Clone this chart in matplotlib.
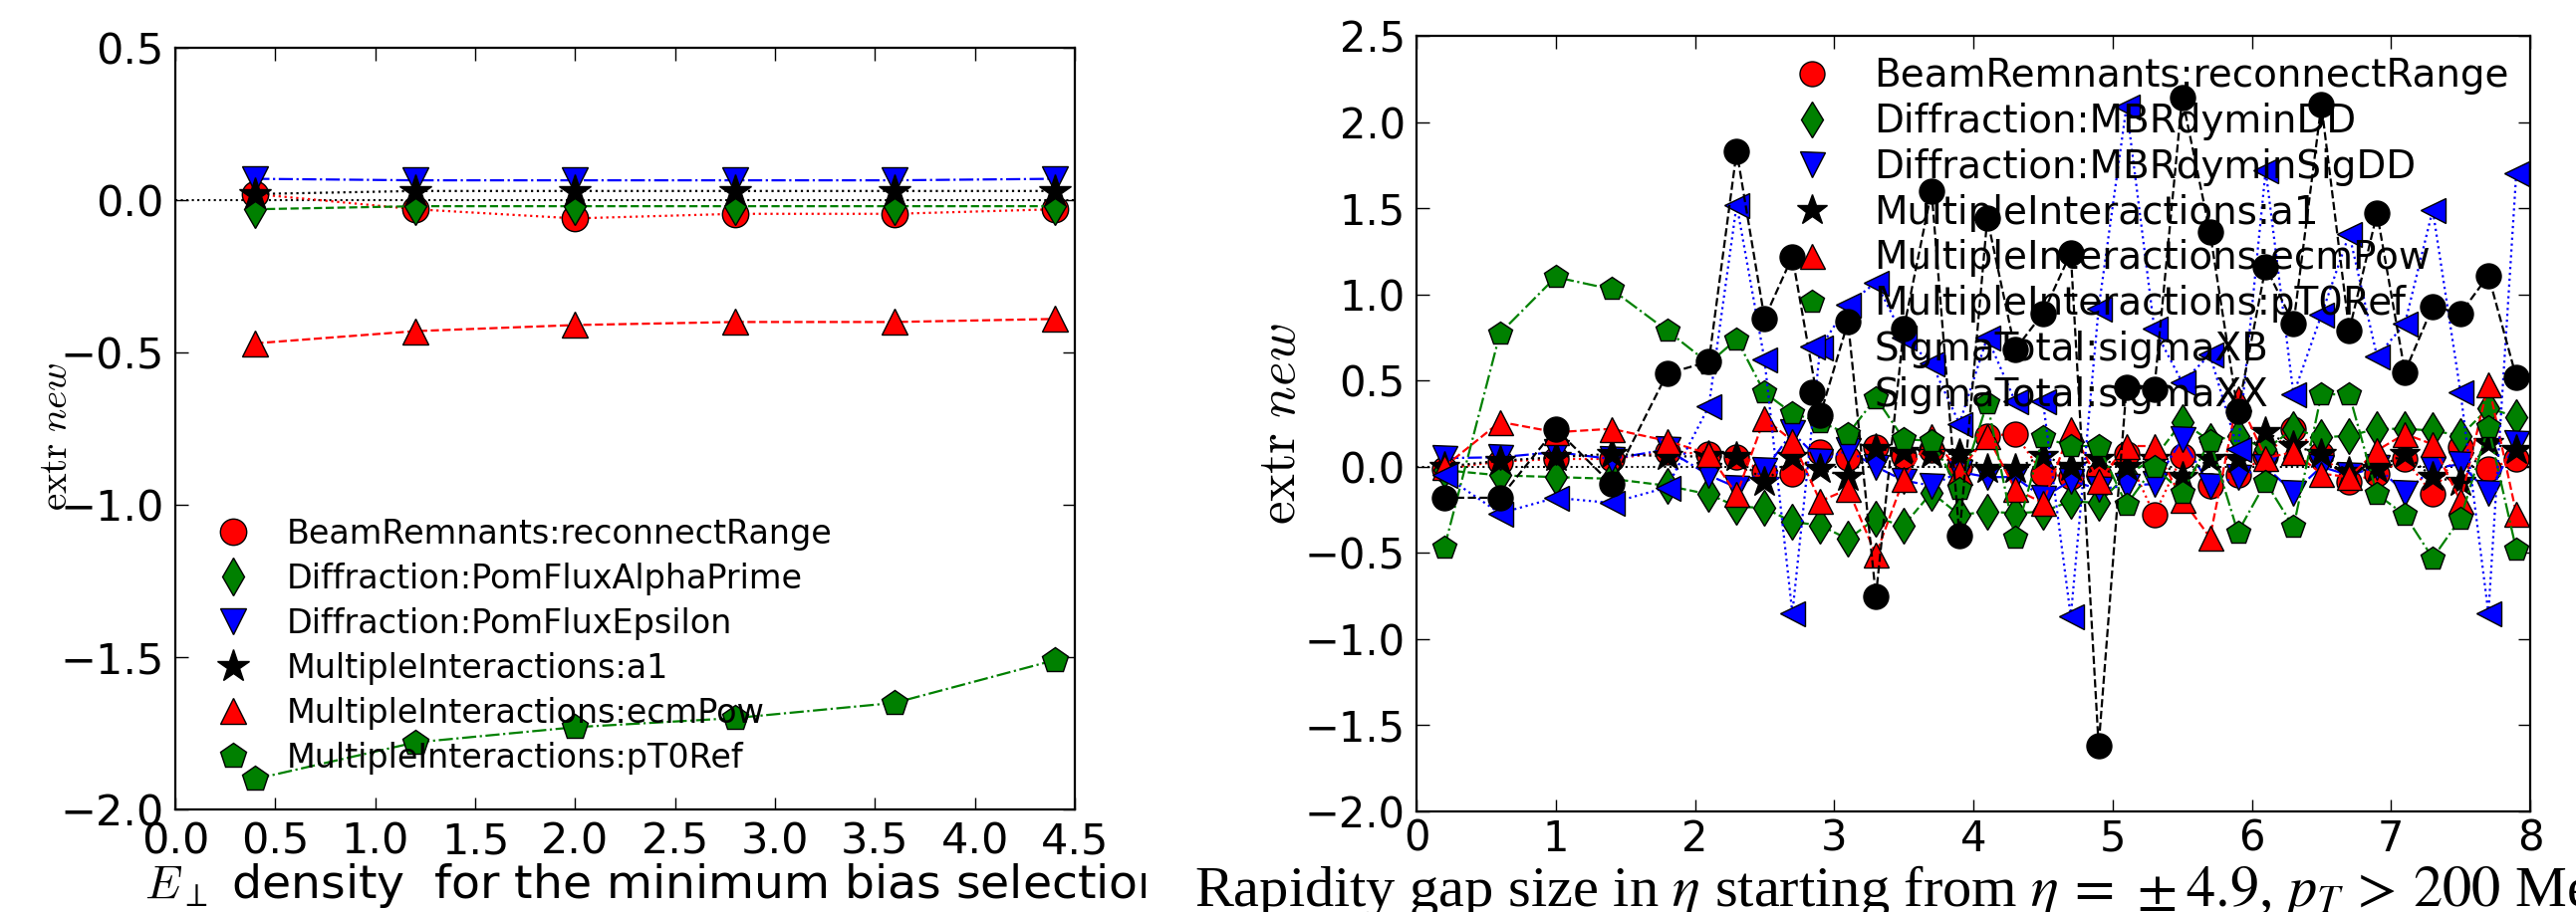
import numpy as np
import matplotlib.pyplot as plt
from matplotlib.lines import Line2D
from matplotlib.transforms import Bbox

plt.rcParams['font.family'] = ['DejaVu Sans']
plt.rcParams['mathtext.fontset'] = 'cm'

# ---- left panel: E_perp density, minimum bias selection
et_x = [0.4, 1.2, 2.0, 2.8, 3.6, 4.4]
et_labels = ['BeamRemnants:reconnectRange', 'Diffraction:PomFluxAlphaPrime',
             'Diffraction:PomFluxEpsilon', 'MultipleInteractions:a1',
             'MultipleInteractions:ecmPow', 'MultipleInteractions:pT0Ref']
et_reconnect = [0.02, -0.03, -0.06, -0.045, -0.045, -0.03]
et_alpha = [-0.03, -0.02, -0.02, -0.02, -0.02, -0.02]
et_eps = [0.07, 0.065, 0.065, 0.065, 0.065, 0.07]
et_a1 = [0.02, 0.03, 0.03, 0.03, 0.03, 0.03]
et_ecm = [-0.47, -0.43, -0.41, -0.40, -0.40, -0.39]
et_pt0 = [-1.90, -1.78, -1.73, -1.70, -1.65, -1.51]

# ---- right panel: rapidity gap size
gap_x = [0.2, 0.6, 1.0, 1.4, 1.8, 2.1, 2.3, 2.5, 2.7, 2.9, 3.1, 3.3, 3.5, 3.7, 3.9,
         4.1, 4.3, 4.5, 4.7, 4.9, 5.1, 5.3, 5.5, 5.7, 5.9, 6.1, 6.3, 6.5, 6.7, 6.9,
         7.1, 7.3, 7.5, 7.7, 7.9]
gap_labels = ['BeamRemnants:reconnectRange', 'Diffraction:MBRdyminDD',
              'Diffraction:MBRdyminSigDD', 'MultipleInteractions:a1',
              'MultipleInteractions:ecmPow', 'MultipleInteractions:pT0Ref',
              'SigmaTotal:sigmaXB', 'SigmaTotal:sigmaXX']
gap_reconnect = [-0.01, 0.03, 0.045, 0.045, 0.085, 0.075, 0.055, -0.03, -0.04, 0.085,
                 0.05, 0.115, 0.06, 0.095, 0.0, 0.18, 0.19, -0.04, -0.06, -0.05,
                 0.075, -0.28, 0.065, -0.11, -0.05, 0.065, 0.22, 0.075, -0.09, -0.04,
                 0.045, -0.16, 0.115, -0.01, 0.045]
gap_dd = [-0.02, -0.05, -0.06, -0.07, -0.11, -0.16, -0.23, -0.24, -0.32, -0.34,
          -0.42, -0.30, -0.34, -0.15, -0.28, -0.26, -0.27, -0.26, -0.20, -0.21,
          -0.05, 0.05, 0.26, 0.15, 0.18, 0.10, 0.22, 0.17, 0.18, 0.22,
          0.22, 0.21, 0.18, 0.34, 0.29]
gap_sigdd = [0.05, 0.055, 0.085, 0.045, 0.10, -0.05, -0.12, -0.02, 0.20, 0.035,
             0.095, 0.0, -0.08, -0.11, -0.03, -0.06, -0.06, -0.18, -0.08, -0.13,
             -0.11, -0.10, 0.16, -0.11, -0.06, 0.0, -0.15, 0.0, -0.05, 0.0,
             -0.15, -0.01, 0.015, -0.15, 0.14]
gap_a1 = [0.0, 0.035, 0.055, 0.075, 0.06, 0.06, 0.055, -0.09, 0.055, -0.015,
          -0.06, 0.105, 0.085, 0.075, 0.075, -0.01, -0.01, 0.065, 0.0, 0.045,
          0.0, 0.045, -0.06, 0.045, 0.045, 0.20, 0.12, 0.075, -0.03, -0.01,
          0.075, -0.06, -0.09, 0.14, 0.095]
gap_ecm = [0.0, 0.26, 0.20, 0.22, 0.15, 0.075, -0.16, 0.28, 0.15, -0.20,
           -0.13, -0.51, -0.07, 0.18, -0.03, 0.18, -0.13, -0.21, 0.22, -0.08,
           0.12, 0.12, -0.19, -0.41, 0.40, 0.05, 0.085, -0.04, -0.06, 0.095,
           0.19, 0.13, -0.20, 0.48, -0.27]
gap_pt0 = [-0.47, 0.775, 1.10, 1.03, 0.79, 0.60, 0.74, 0.43, 0.31, 0.26,
           0.19, 0.40, 0.16, 0.15, -0.13, 0.37, -0.41, 0.17, 0.12, 0.12,
           -0.22, 0.0, -0.15, 0.15, -0.38, -0.09, -0.35, 0.42, 0.42, -0.16,
           -0.28, -0.53, -0.30, 0.23, -0.48]
gap_xb = [-0.05, -0.27, -0.18, -0.21, -0.12, 0.35, 1.52, 0.62, -0.85, 0.69,
          0.94, 1.07, 0.75, 0.60, 0.25, 0.75, 0.38, 0.38, -0.87, 0.92,
          2.09, 0.80, 0.49, 0.65, 0.10, 1.72, 0.42, 0.88, 1.35, 0.64,
          0.83, 1.49, 0.43, -0.85, 1.70]
gap_xx = [-0.18, -0.18, 0.22, -0.10, 0.54, 0.61, 1.83, 0.86, 1.22, 0.30,
          0.84, -0.75, 0.80, 1.60, -0.40, 1.44, 0.68, 0.89, 1.24, -1.62,
          0.46, 0.45, 2.14, 1.36, 0.32, 1.16, 0.83, 2.10, 0.79, 1.47,
          0.55, 0.93, 0.89, 1.11, 0.52]

styles = [('r', 'o', ':'), ('g', 'd', '--'), ('b', 'v', '-.'), ('k', '*', ':'),
          ('r', '^', '--'), ('g', 'p', '-.'), ('b', '<', ':'), ('k', 'o', '--')]

W, H = 2586, 916
fig = plt.figure(figsize=(W/100, H/100), dpi=100)
ax1 = fig.add_axes([176/W, 1-813/H, (1079-176)/W, (813-48)/H])
ax2 = fig.add_axes([1422/W, 1-815/H, (2540-1422)/W, (815-36)/H])

def draw(ax, x, series, labels, ms, tsize, ysize):
    ax.axhline(0, color='k', ls=':', lw=1.5)
    handles = []
    for vals, lab, (c, m, ls) in zip(series, labels, styles):
        msz = ms * 1.3 if m == '*' else ms
        ax.plot(x, vals, color=c, ls=ls, lw=1.6, marker=m, markersize=msz,
                markeredgecolor='k', markeredgewidth=1.0)
        handles.append(Line2D([], [], color=c, ls='none', marker=m, markersize=msz,
                              markeredgecolor='k', markeredgewidth=1.0, label=lab))
    ax.tick_params(direction='in', top=True, right=True, length=9, width=1,
                   labelsize=tsize, pad=8)
    for s in ax.spines.values():
        s.set_linewidth(1.6)
    ax.set_ylabel(r'$\mathrm{extr}\ new$', fontsize=ysize)
    return handles

h1 = draw(ax1, et_x, [et_reconnect, et_alpha, et_eps, et_a1, et_ecm, et_pt0],
          et_labels, 19, 31, 28)
ax1.set_xlim(0, 4.5)
ax1.set_ylim(-2.0, 0.5)
ax1.set_xticks(np.arange(0, 4.51, 0.5))
ax1.set_yticks(np.arange(-2.0, 0.51, 0.5))
ax1.yaxis.set_label_coords(-0.112, 0.49)
ax1.legend(handles=h1, loc='lower left', bbox_to_anchor=(0.02, 0.02), frameon=False,
           numpoints=1, fontsize=24, handlelength=1.2, handletextpad=1.0,
           labelspacing=0.36, borderaxespad=0.2)

h2 = draw(ax2, gap_x, [gap_reconnect, gap_dd, gap_sigdd, gap_a1, gap_ecm, gap_pt0,
                       gap_xb, gap_xx], gap_labels, 18, 30, 38)
ax2.tick_params(axis='x', pad=5)
ax2.set_xlim(0, 8)
ax2.set_ylim(-2.0, 2.5)
ax2.set_xticks(np.arange(0, 8.1, 1))
ax2.set_yticks(np.arange(-2.0, 2.51, 0.5))
ax2.yaxis.set_label_coords(-0.099, 0.5)
ax2.legend(handles=h2, loc='upper right', bbox_to_anchor=(1.0, 1.0), frameon=False,
           numpoints=1, fontsize=28, handlelength=1.2, handletextpad=1.0,
           labelspacing=0.2, borderaxespad=0.15)

t1 = fig.text(145/W, 1-902/H,
              r'$E_\perp$ density  for the minimum bias selection',
              fontsize=34, va='baseline', ha='left')
t1.set_clip_box(Bbox.from_extents(0, 0, 1150, H))
t1.set_clip_on(True)

fig.text(1199/W, 1-910/H,
         r'Rapidity gap size in $\eta$ starting from $\eta\,=\,\pm 4.9$, $p_T\,>\,200$ MeV',
         fontsize=42, va='baseline', ha='left', family=['Liberation Serif'],
         math_fontfamily='stix')

fig.savefig('out.png', dpi=100)
